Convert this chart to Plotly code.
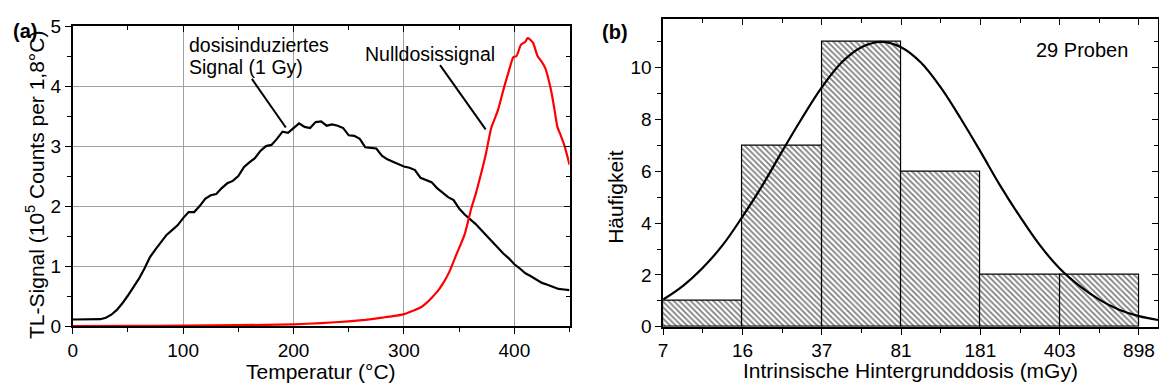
import plotly.graph_objects as go

# ---- Panel (a): glow curves -------------------------------------------
temp_dose = [0, 10, 20, 25, 30, 35, 40, 45, 50, 55, 60, 65, 70, 75, 80, 85, 90, 95,
             100, 105, 110, 115, 120, 125, 130, 135, 140, 145, 150, 155, 160, 165,
             170, 175, 180, 185, 190, 195, 200, 205, 210, 215, 220, 225, 230, 235,
             240, 245, 250, 255, 260, 265, 270, 275, 280, 285, 290, 295, 300, 305,
             310, 315, 320, 325, 330, 335, 340, 345, 350, 355, 360, 365, 370, 375,
             380, 385, 390, 395, 400, 405, 410, 415, 420, 425, 430, 435, 440, 445, 450]
signal_dose = [0.11, 0.11, 0.11, 0.115, 0.14, 0.19, 0.27, 0.38, 0.51, 0.64, 0.79, 0.96,
               1.15, 1.28, 1.40, 1.52, 1.60, 1.68, 1.80, 1.90, 1.90, 2.00, 2.12, 2.18,
               2.20, 2.30, 2.38, 2.42, 2.50, 2.65, 2.73, 2.80, 2.92, 3.00, 3.02, 3.12,
               3.24, 3.22, 3.30, 3.38, 3.32, 3.30, 3.40, 3.41, 3.34, 3.36, 3.34, 3.30,
               3.18, 3.17, 3.12, 2.98, 2.97, 2.96, 2.84, 2.78, 2.74, 2.70, 2.66, 2.64,
               2.60, 2.47, 2.43, 2.40, 2.30, 2.22, 2.15, 2.10, 1.96, 1.86, 1.78, 1.70,
               1.60, 1.50, 1.41, 1.31, 1.21, 1.13, 1.03, 0.96, 0.88, 0.83, 0.78, 0.72,
               0.69, 0.65, 0.62, 0.61, 0.60]

temp_zero = [0, 50, 100, 150, 200, 225, 250, 265, 280, 290, 300, 310, 315, 320, 325,
             330, 335, 341, 347, 355, 361, 365, 370, 374, 379, 385, 391, 395, 399, 402,
             406, 410, 412, 414, 417, 421, 425, 428, 433, 436, 439, 442, 445.5, 450]
signal_zero = [0.0, 0.003, 0.008, 0.015, 0.03, 0.05, 0.08, 0.105, 0.14, 0.165, 0.20,
               0.27, 0.31, 0.38, 0.47, 0.57, 0.70, 0.90, 1.17, 1.53, 1.96, 2.20, 2.55,
               2.85, 3.30, 3.59, 4.00, 4.25, 4.48, 4.50, 4.69, 4.74, 4.80, 4.78, 4.72,
               4.50, 4.40, 4.30, 3.95, 3.65, 3.32, 3.18, 3.00, 2.69]

# ---- Panel (b): histogram of intrinsic background dose ----------------
bin_edges = ["7", "16", "37", "81", "181", "403", "898"]
counts = [1, 7, 11, 6, 2, 2]
fit_pos = [0, 0.25, 0.5, 0.75, 1, 1.25, 1.5, 1.75, 2, 2.25, 2.5, 2.75, 3, 3.25, 3.5,
           3.75, 4, 4.25, 4.5, 4.75, 5, 5.25, 5.5, 5.75, 6, 6.24]
fit_count = [1.05, 1.58, 2.28, 3.15, 4.25, 5.45, 6.77, 8.05, 9.24, 10.20, 10.79, 11.0,
             10.79, 10.20, 9.24, 8.05, 6.77, 5.45, 4.25, 3.15, 2.25, 1.58, 1.05, 0.66,
             0.41, 0.26]

FONT = "Liberation Sans, Arial, sans-serif"
W, H = 1159, 392


def px_x(p):
    return p / W


def px_y(p):
    return 1 - p / H


fig = go.Figure()

fig.add_trace(go.Scatter(x=temp_dose, y=signal_dose, mode="lines",
                         line=dict(color="black", width=2.2), showlegend=False,
                         xaxis="x", yaxis="y"))
fig.add_trace(go.Scatter(x=temp_zero, y=signal_zero, mode="lines",
                         line=dict(color="#ff0000", width=2.2, shape="spline", smoothing=0.5),
                         showlegend=False, xaxis="x", yaxis="y"))

bar_x = [i + 0.5 for i in range(len(counts))]
fig.add_trace(go.Bar(x=bar_x, y=counts, width=1.0, showlegend=False,
                     marker=dict(color="white",
                                 line=dict(color="black", width=1.2),
                                 pattern=dict(shape="\\", fgcolor="black", bgcolor="white",
                                              size=4, solidity=0.45)),
                     xaxis="x2", yaxis="y2"))
fig.add_trace(go.Scatter(x=fit_pos, y=fit_count, mode="lines",
                         line=dict(color="black", width=2.2, shape="spline"),
                         showlegend=False, xaxis="x2", yaxis="y2"))

# empty traces so the mirrored frame axes get drawn
for xa, ya in (("x3", "y3"), ("x4", "y4")):
    fig.add_trace(go.Scatter(x=[None], y=[None], xaxis=xa, yaxis=ya,
                             showlegend=False, hoverinfo="skip"))

dom_a_x = [px_x(68), px_x(567)]
dom_a_y = [px_y(334), px_y(17)]
dom_b_x = [px_x(661), px_x(1158)]
dom_b_y = [px_y(334.7), px_y(9.3)]

axis_common = dict(showline=True, linecolor="black", linewidth=1.5, zeroline=False,
                   tickcolor="black", tickwidth=1.3, ticklen=6,
                   tickfont=dict(family=FONT, size=19, color="black"))
minor_out = dict(ticks="outside", ticklen=4, tickcolor="black", tickwidth=1.1, showgrid=False)
minor_in = dict(ticks="inside", ticklen=4, tickcolor="black", tickwidth=1.1, showgrid=False)

fig.update_layout(
    width=W, height=H, autosize=False,
    margin=dict(l=0, r=0, t=0, b=0),
    paper_bgcolor="white", plot_bgcolor="white",
    font=dict(family=FONT, color="black"),
    bargap=0,
    xaxis=dict(domain=dom_a_x, anchor="y", range=[0, 450], tick0=0, dtick=100,
               ticks="outside", showgrid=True, gridcolor="#a0a0a0", gridwidth=1,
               minor=dict(dtick=50, tick0=0, **minor_out), **axis_common),
    yaxis=dict(domain=dom_a_y, anchor="x", range=[0, 5], tick0=0, dtick=1,
               ticks="outside", showgrid=True, gridcolor="#a0a0a0", gridwidth=1,
               minor=dict(dtick=0.5, tick0=0, **minor_out), **axis_common),
    xaxis3=dict(overlaying="x", anchor="y3", side="top", range=[0, 450], tick0=0,
                dtick=100, ticks="inside", showticklabels=False, showgrid=False,
                minor=dict(dtick=50, tick0=0, **minor_in), **axis_common),
    yaxis3=dict(overlaying="y", anchor="x3", side="right", range=[0, 5], tick0=0,
                dtick=1, ticks="inside", showticklabels=False, showgrid=False,
                minor=dict(dtick=0.5, tick0=0, **minor_in), **axis_common),
    xaxis2=dict(domain=dom_b_x, anchor="y2", range=[0, 6.24], tickmode="array",
                tickvals=list(range(len(bin_edges))), ticktext=bin_edges,
                ticks="outside", showgrid=False,
                minor=dict(tickmode="array", tickvals=bar_x, **minor_out), **axis_common),
    yaxis2=dict(domain=dom_b_y, anchor="x2", range=[0, 11.89], tick0=0, dtick=2,
                ticks="outside", showgrid=False,
                minor=dict(dtick=1, tick0=0, **minor_out), **axis_common),
    xaxis4=dict(overlaying="x2", anchor="y4", side="top", range=[0, 6.24],
                tickmode="array", tickvals=list(range(len(bin_edges))),
                ticks="inside", showticklabels=False, showgrid=False,
                minor=dict(tickmode="array", tickvals=bar_x, **minor_in), **axis_common),
    yaxis4=dict(overlaying="y2", anchor="x4", side="right", range=[0, 11.89], tick0=0,
                dtick=2, ticks="inside", showticklabels=False, showgrid=False,
                minor=dict(dtick=1, tick0=0, **minor_in), **axis_common),
)

# pointer lines from the labels to the curves
for x0, y0, x1, y1 in ((162.3, 4.12, 193.0, 3.31), (332.7, 4.35, 374.0, 3.28)):
    fig.add_shape(type="line", xref="x", yref="y", x0=x0, y0=y0, x1=x1, y1=y1,
                  line=dict(color="black", width=2))

ann_font = dict(family=FONT, size=19.5, color="black")
title_font = dict(family=FONT, size=21, color="black")
annotations = [
    dict(text="dosisinduziertes", x=103.7, y=4.685, xref="x", yref="y",
         xanchor="left", yanchor="middle", font=ann_font),
    dict(text="Signal (1 Gy)", x=103.7, y=4.32, xref="x", yref="y",
         xanchor="left", yanchor="middle", font=ann_font),
    dict(text="Nulldosissignal", x=263.3, y=4.53, xref="x", yref="y",
         xanchor="left", yanchor="middle", font=ann_font),
    dict(text="29 Proben", x=px_x(1033), y=px_y(42), xref="paper", yref="paper",
         xanchor="left", yanchor="middle", font=dict(family=FONT, size=20, color="black")),
    dict(text="<b>(a)</b>", x=px_x(20), y=px_y(22), xref="paper", yref="paper",
         xanchor="center", yanchor="middle", font=dict(family=FONT, size=20, color="black")),
    dict(text="<b>(b)</b>", x=px_x(613), y=px_y(23), xref="paper", yref="paper",
         xanchor="center", yanchor="middle", font=dict(family=FONT, size=20, color="black")),
    dict(text="Temperatur (°C)", x=px_x(317.5), y=px_y(382), xref="paper", yref="paper",
         xanchor="center", yanchor="middle", font=title_font),
    dict(text="Intrinsische Hintergrunddosis (mGy)", x=px_x(909.5), y=px_y(381),
         xref="paper", yref="paper", xanchor="center", yanchor="middle", font=title_font),
    dict(text="TL-Signal (10<sup>5</sup> Counts per 1,8°C)", x=px_x(30), y=px_y(185),
         xref="paper", yref="paper", xanchor="center", yanchor="middle",
         textangle=-90, font=title_font),
    dict(text="Häufigkeit", x=px_x(613), y=px_y(197), xref="paper", yref="paper",
         xanchor="center", yanchor="middle", textangle=-90, font=title_font),
]
for a in annotations:
    fig.add_annotation(showarrow=False, **a)

fig.write_html("out.html")
